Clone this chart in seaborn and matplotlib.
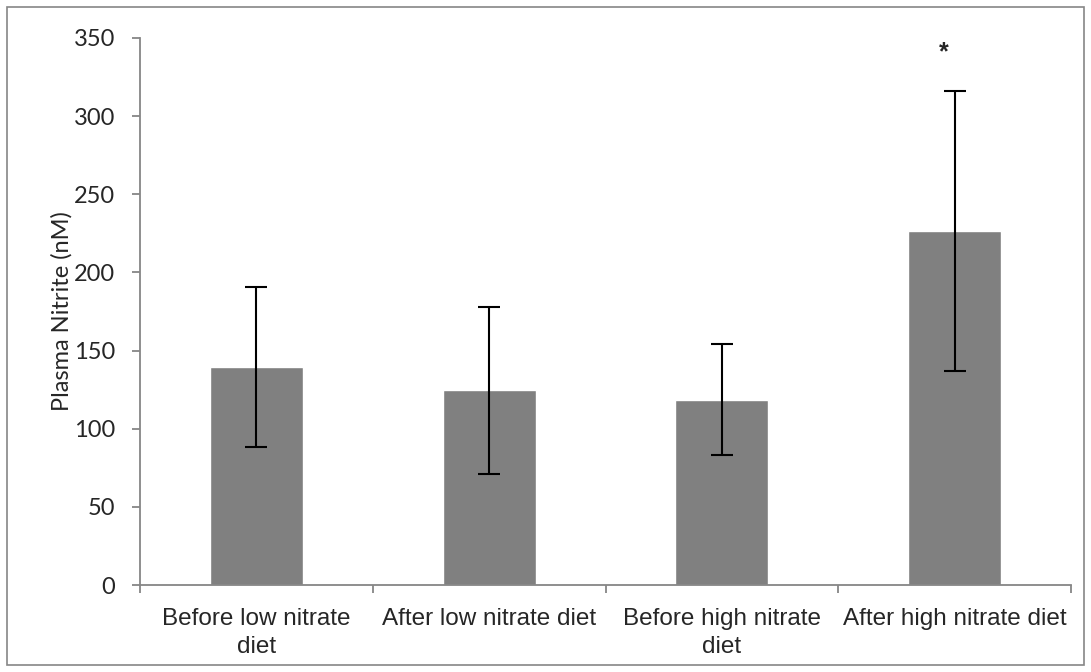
import matplotlib
matplotlib.use('Agg')
import matplotlib.pyplot as plt
from matplotlib.patches import Rectangle
from matplotlib.ticker import FixedLocator
import seaborn as sns
import pandas as pd

# values
groups = ['Before low nitrate\ndiet', 'After low nitrate diet',
          'Before high nitrate\ndiet', 'After high nitrate diet']
nitrite_mean = [139.5, 124.5, 118.5, 226.5]
nitrite_sd = [51, 53.5, 35.5, 89.5]
y_ticks = [0, 50, 100, 150, 200, 250, 300, 350]

sns.set_style('white')
plt.rcParams['font.family'] = ['Liberation Sans', 'DejaVu Sans']

df = pd.DataFrame({'group': groups, 'nitrite': nitrite_mean})

fig = plt.figure(figsize=(10.91, 6.72), dpi=100)
ax = fig.add_axes([140 / 1091, 1 - 585 / 672, 931 / 1091, 547 / 672])

sns.barplot(data=df, x='group', y='nitrite', color='#808080', saturation=1,
            width=0.4, errorbar=None, ax=ax)
ax.errorbar(range(len(groups)), nitrite_mean, yerr=nitrite_sd, fmt='none',
            ecolor='black', elinewidth=1.5, capsize=8, capthick=1.5)

# significance marker over the last bar
ax.text(len(groups) - 1 - 0.045, 341, '*', ha='center', va='center',
        fontsize=18, fontweight='bold')

ax.set_xlim(-0.5, len(groups) - 0.5)
ax.set_ylim(0, 350)
ax.set_yticks(y_ticks)
ax.set_ylabel('Plasma Nitrite (nM)', fontsize=17, family=['Lato', 'DejaVu Sans'],
              labelpad=1)
ax.set_xlabel('')

for s in ['top', 'right']:
    ax.spines[s].set_visible(False)
for s in ['left', 'bottom']:
    ax.spines[s].set_color('#868686')
    ax.spines[s].set_linewidth(1.3)

ax.tick_params(axis='y', left=True, length=5.8, width=1.3, color='#868686',
               labelsize=17, pad=12)
for lbl in ax.get_yticklabels():
    lbl.set_family(['Lato', 'DejaVu Sans'])
ax.tick_params(axis='x', which='major', length=0, labelsize=17.5, pad=16.5)
ax.xaxis.set_minor_locator(FixedLocator([i - 0.5 for i in range(len(groups) + 1)]))
ax.tick_params(axis='x', which='minor', bottom=True, length=5.8, width=1.3,
               color='#868686')
for lbl in ax.get_xticklabels():
    lbl.set_linespacing(1.38)

fig.patches.append(Rectangle((7 / 1091, 7 / 672), 1 - 14 / 1091, 1 - 14 / 672,
                             transform=fig.transFigure, fill=False,
                             edgecolor='#868686', linewidth=1.2))

fig.savefig('out.png', dpi=100)
